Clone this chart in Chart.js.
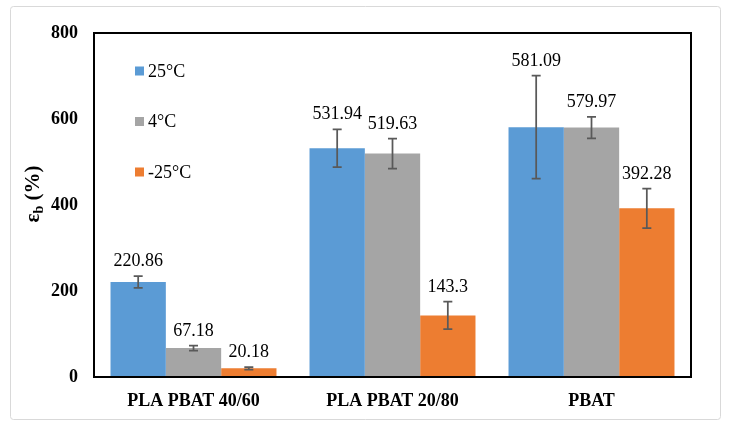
<!DOCTYPE html>
<html>
<head>
<meta charset="utf-8">
<script src="https://cdn.jsdelivr.net/npm/chart.js@4.4.1/dist/chart.umd.min.js"></script>
<style>
  html, body { margin: 0; padding: 0; background: #ffffff; }
  #wrap { width: 732px; height: 429px; position: relative; }
</style>
</head>
<body>
<div id="wrap"><canvas id="c" width="732" height="429"></canvas></div>
<script>
const categories = ["PLA PBAT 40/60", "PLA PBAT 20/80", "PBAT"];
const seriesNames = ["25°C", "4°C", "-25°C"];
const values25 = [220.86, 531.94, 581.09];
const values4 = [67.18, 519.63, 579.97];
const valuesMinus25 = [20.18, 143.3, 392.28];
const errors25 = [13.5, 44, 120];
const errors4 = [6, 35, 25];
const errorsMinus25 = [3, 32, 46];
const yTicks = [0, 200, 400, 600, 800];
const colors = ["#5B9BD5", "#A5A5A5", "#ED7D31"];

const FONT = '"Liberation Serif", "Times New Roman", serif';
const allValues = [values25, values4, valuesMinus25];
const allErrors = [errors25, errors4, errorsMinus25];

const frame = {
  id: 'frame',
  beforeDraw(chart) {
    const ctx = chart.ctx;
    ctx.save();
    ctx.fillStyle = '#ffffff';
    ctx.fillRect(0, 0, chart.width, chart.height);
    ctx.strokeStyle = '#d9d9d9';
    ctx.lineWidth = 1;
    ctx.beginPath();
    if (ctx.roundRect) ctx.roundRect(10.5, 6.5, 710, 413, 3); else ctx.rect(10.5, 6.5, 710, 413);
    ctx.stroke();
    ctx.restore();
  },
  afterDraw(chart) {
    const ctx = chart.ctx;
    const a = chart.chartArea;
    ctx.save();
    ctx.strokeStyle = '#000000';
    ctx.lineWidth = 2;
    ctx.strokeRect(a.left, a.top, a.right - a.left, a.bottom - a.top);

    // Y axis title: ε_b (%)
    ctx.translate(33, 194);
    ctx.rotate(-Math.PI / 2);
    ctx.fillStyle = '#000000';
    ctx.textBaseline = 'alphabetic';
    ctx.textAlign = 'left';
    const big = 'bold 21px ' + FONT;
    const small = 'bold 14px ' + FONT;
    ctx.font = big;
    const w1 = ctx.measureText('ε').width;
    ctx.font = small;
    const w2 = ctx.measureText('b').width;
    ctx.font = big;
    const w3 = ctx.measureText(' (%)').width;
    const total = w1 + w2 + w3;
    let x = -total / 2;
    ctx.font = big;
    ctx.fillText('ε', x, 6);
    x += w1;
    ctx.font = small;
    ctx.fillText('b', x, 10);
    x += w2;
    ctx.font = big;
    ctx.fillText(' (%)', x, 6);
    ctx.restore();

    // Legend
    ctx.save();
    ctx.font = '18px ' + FONT;
    ctx.textBaseline = 'middle';
    ctx.textAlign = 'left';
    const legY = [71, 121.5, 172];
    chart.data.datasets.forEach((ds, i) => {
      ctx.fillStyle = ds.backgroundColor;
      ctx.fillRect(135, legY[i] - 4.5, 9, 9);
      ctx.fillStyle = '#000000';
      ctx.fillText(ds.label, 148, legY[i] + 1);
    });
    ctx.restore();
  },
  afterDatasetsDraw(chart) {
    const ctx = chart.ctx;
    const yScale = chart.scales.y;
    ctx.save();
    chart.data.datasets.forEach((ds, i) => {
      const meta = chart.getDatasetMeta(i);
      meta.data.forEach((bar, j) => {
        const v = ds.data[j];
        const e = allErrors[i][j];
        const yTop = yScale.getPixelForValue(v + e);
        const yBot = yScale.getPixelForValue(v - e);
        const x = bar.x;
        ctx.strokeStyle = '#595959';
        ctx.lineWidth = 1.75;
        ctx.beginPath();
        ctx.moveTo(x, yTop); ctx.lineTo(x, yBot);
        ctx.moveTo(x - 4.5, yTop); ctx.lineTo(x + 4.5, yTop);
        ctx.moveTo(x - 4.5, yBot); ctx.lineTo(x + 4.5, yBot);
        ctx.stroke();
        ctx.fillStyle = '#000000';
        ctx.font = '18px ' + FONT;
        ctx.textAlign = 'center';
        ctx.textBaseline = 'alphabetic';
        ctx.fillText(String(v), x, yTop - 10);
      });
    });
    ctx.restore();
  }
};

new Chart(document.getElementById('c'), {
  type: 'bar',
  data: {
    labels: categories,
    datasets: seriesNames.map((name, i) => ({
      label: name,
      data: allValues[i],
      backgroundColor: colors[i],
      borderWidth: 0,
      categoryPercentage: 0.834,
      barPercentage: 1.0
    }))
  },
  options: {
    responsive: false,
    animation: false,
    devicePixelRatio: 1,
    layout: { padding: { left: 0, top: 33, right: 41, bottom: 0 } },
    plugins: { legend: { display: false }, tooltip: { enabled: false } },
    scales: {
      x: {
        grid: { display: false, drawTicks: false },
        border: { display: false },
        ticks: { color: '#000000', font: { family: FONT, size: 18, weight: 'bold' }, padding: 14, maxRotation: 0 },
        afterFit(scale) { scale.height = 52; }
      },
      y: {
        min: 0, max: 800,
        afterBuildTicks(scale) { scale.ticks = yTicks.map(v => ({ value: v })); },
        grid: { display: false, drawTicks: false },
        border: { display: false },
        ticks: { color: '#000000', font: { family: FONT, size: 18, weight: 'bold' }, padding: 16 },
        afterFit(scale) { scale.width = 94; }
      }
    }
  },
  plugins: [frame]
});
</script>
</body>
</html>
